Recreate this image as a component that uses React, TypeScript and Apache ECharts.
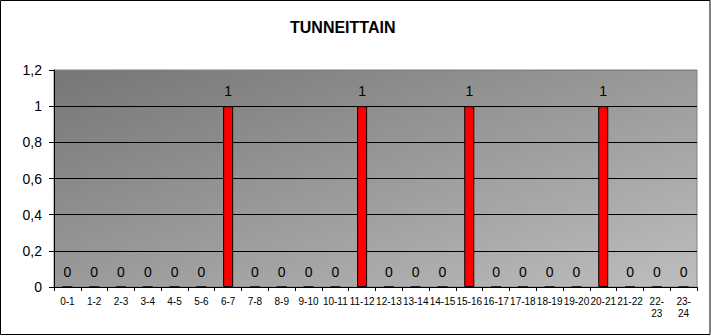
import React, { useEffect, useRef } from "react";
import * as echarts from "echarts";

const titleText = "TUNNEITTAIN";
const categories = [
  "0-1", "1-2", "2-3", "3-4", "4-5", "5-6", "6-7", "7-8", "8-9", "9-10", "10-11", "11-12",
  "12-13", "13-14", "14-15", "15-16", "16-17", "17-18", "18-19", "19-20", "20-21", "21-22", "22-23", "23-24",
];
const values = [0, 0, 0, 0, 0, 0, 1, 0, 0, 0, 0, 1, 0, 0, 0, 1, 0, 0, 0, 0, 1, 0, 0, 0];
const wrappedFrom = 22; // categories starting at this hour wrap onto two lines

const FONT = "'Liberation Sans', Arial, sans-serif";

export default function App() {
  const ref = useRef<HTMLDivElement>(null);
  useEffect(() => {
    if (!ref.current) return;
    const chart = echarts.init(ref.current, null, { renderer: "svg" });
    chart.setOption({
      animation: false,
      backgroundColor: "#ffffff",
      textStyle: { fontFamily: FONT },
      title: {
        text: titleText,
        left: 285,
        top: 14,
        textStyle: { fontFamily: FONT, fontSize: 16, fontWeight: "bold", color: "#000" },
      },
      grid: {
        left: 54,
        right: 14,
        top: 70,
        bottom: 49,
        show: true,
        borderColor: "#808080",
        borderWidth: 1,
        backgroundColor: new echarts.graphic.LinearGradient(0, 0, 1, 1, [
          { offset: 0, color: "#767676" },
          { offset: 1, color: "#bebebe" },
        ]),
      },
      xAxis: {
        type: "category",
        data: categories,
        axisLine: { show: true, lineStyle: { color: "#000", width: 1 } },
        axisTick: { show: true, length: 4, lineStyle: { color: "#000" } },
        axisLabel: {
          interval: 0,
          margin: 8,
          fontSize: 10,
          color: "#000",
          fontFamily: FONT,
          lineHeight: 12,
          formatter: (v: string) =>
            parseInt(v, 10) >= wrappedFrom ? v.replace("-", "-\n") : v,
        },
        splitLine: { show: false },
      },
      yAxis: {
        type: "value",
        min: 0,
        max: 1.2,
        interval: 0.2,
        axisLine: { show: true, lineStyle: { color: "#000", width: 1 } },
        axisTick: { show: true, length: 5, lineStyle: { color: "#000" } },
        axisLabel: {
          margin: 12,
          fontSize: 14,
          color: "#000",
          fontFamily: FONT,
          formatter: (v: number) => String(Math.round(v * 10) / 10).replace(".", ","),
        },
        splitLine: {
          show: true,
          lineStyle: {
            color: ["#000", "#000", "#000", "#000", "#000", "#000", "#808080"],
            width: 1,
          },
        },
      },
      series: [
        {
          type: "bar",
          data: values,
          barWidth: 10,
          itemStyle: { color: "#ff0000", borderColor: "#000", borderWidth: 1 },
          label: {
            show: true,
            position: "top",
            distance: 8,
            fontSize: 14,
            color: "#000",
            fontFamily: FONT,
          },
        },
      ],
      graphic: [
        {
          type: "rect",
          silent: true,
          z: 100,
          shape: { x: 0.5, y: 0.5, width: 709.5, height: 334 },
          style: { fill: "none", stroke: "#000", lineWidth: 1 },
        },
      ],
    });
    return () => chart.dispose();
  }, []);
  return (
    <div
      ref={ref}
      style={{ position: "fixed", left: 0, top: 0, width: 711, height: 336 }}
    />
  );
}
